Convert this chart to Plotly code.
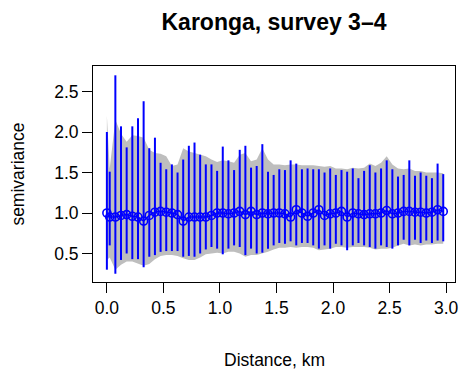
import plotly.graph_objects as go

# Empirical semivariogram (Karonga, survey 3-4): bin distances in km
distance = [0.0] + [round(0.025 + 0.05 * k, 3) for k in range(60)]

# Estimated semivariance per bin
gamma = [1.00, 0.95, 0.95, 0.97, 0.98, 0.96, 0.95, 0.90, 0.97, 1.01,
         1.02, 1.01, 1.00, 0.98, 0.90, 0.95, 0.95, 0.95, 0.95, 0.97,
         1.00, 1.00, 0.99, 1.00, 1.02, 0.98, 1.02, 0.98, 1.00, 0.99,
         1.00, 1.00, 0.99, 0.95, 1.04, 1.00, 0.96, 1.00, 1.04, 0.97,
         0.99, 1.00, 1.02, 0.95, 1.00, 0.99, 0.98, 0.99, 0.99, 1.00,
         1.03, 0.99, 1.00, 1.02, 1.02, 1.01, 1.01, 1.00, 1.01, 1.04,
         1.02]

# Lower / upper limits of the per-bin intervals
ci_low = [0.30, 0.60, 0.25, 0.42, 0.50, 0.43, 0.43, 0.33, 0.46, 0.48,
          0.52, 0.53, 0.53, 0.53, 0.46, 0.47, 0.46, 0.50, 0.55, 0.58,
          0.56, 0.49, 0.56, 0.60, 0.58, 0.48, 0.56, 0.50, 0.51, 0.56,
          0.60, 0.63, 0.62, 0.65, 0.60, 0.63, 0.63, 0.60, 0.56, 0.60,
          0.56, 0.62, 0.60, 0.54, 0.60, 0.63, 0.60, 0.58, 0.56, 0.60,
          0.58, 0.56, 0.60, 0.67, 0.60, 0.67, 0.63, 0.66, 0.63, 0.66,
          0.65]
ci_high = [2.00, 1.51, 2.70, 2.07, 1.81, 2.07, 2.17, 2.38, 1.80, 1.93,
           1.62, 1.54, 1.60, 1.50, 1.66, 1.83, 1.87, 1.72, 1.60, 1.60,
           1.52, 1.82, 1.65, 1.53, 1.78, 1.83, 1.56, 1.58, 1.85, 1.51,
           1.47, 1.54, 1.53, 1.65, 1.61, 1.54, 1.55, 1.54, 1.54, 1.50,
           1.55, 1.47, 1.53, 1.51, 1.55, 1.43, 1.52, 1.59, 1.50, 1.55,
           1.65, 1.54, 1.45, 1.47, 1.65, 1.46, 1.50, 1.46, 1.43, 1.61,
           1.48]

# Simulation envelope under no spatial correlation
env_low = [0.42, 0.45, 0.30, 0.36, 0.40, 0.40, 0.38, 0.35, 0.37, 0.43,
           0.47, 0.48, 0.48, 0.47, 0.44, 0.42, 0.42, 0.45, 0.49, 0.50,
           0.51, 0.50, 0.52, 0.52, 0.50, 0.46, 0.48, 0.48, 0.50, 0.52,
           0.55, 0.57, 0.57, 0.58, 0.57, 0.58, 0.58, 0.57, 0.54, 0.55,
           0.56, 0.58, 0.58, 0.57, 0.58, 0.58, 0.58, 0.57, 0.55, 0.56,
           0.56, 0.57, 0.60, 0.62, 0.60, 0.61, 0.60, 0.61, 0.61, 0.62,
           0.62]
env_high = [2.20, 1.55, 2.15, 1.98, 1.88, 1.96, 1.95, 1.93, 1.78, 1.74,
            1.73, 1.70, 1.58, 1.60, 1.80, 1.76, 1.74, 1.72, 1.70, 1.66,
            1.63, 1.65, 1.64, 1.62, 1.72, 1.74, 1.64, 1.66, 1.80, 1.66,
            1.60, 1.60, 1.59, 1.60, 1.60, 1.59, 1.59, 1.59, 1.58, 1.57,
            1.58, 1.55, 1.55, 1.54, 1.56, 1.55, 1.56, 1.61, 1.58, 1.62,
            1.70, 1.60, 1.55, 1.54, 1.55, 1.52, 1.52, 1.50, 1.50, 1.50,
            1.49]

x_ticks = [0.0, 0.5, 1.0, 1.5, 2.0, 2.5, 3.0]
x_ticktext = ["0.0", "0.5", "1.0", "1.5", "2.0", "2.5", "3.0"]
y_ticks = [0.5, 1.0, 1.5, 2.0, 2.5]
y_ticktext = ["0.5", "1.0", "1.5", "2.0", "2.5"]

FONT = "Liberation Sans, Arial, Helvetica, sans-serif"
BLUE = "#0000FF"
W, H = 464, 372
L, R, T, B = 93, 6, 66, 90

fig = go.Figure()

# grey envelope polygon
fig.add_trace(go.Scatter(
    x=distance + distance[::-1],
    y=env_high + env_low[::-1],
    fill="toself", fillcolor="#BEBEBE",
    line=dict(width=0), mode="lines", hoverinfo="skip",
))

# intervals as error bars, points joined by a line
fig.add_trace(go.Scatter(
    x=distance, y=gamma, mode="lines+markers",
    line=dict(color=BLUE, width=1.5),
    marker=dict(symbol="circle-open", size=8, color=BLUE,
                line=dict(width=1.6, color=BLUE)),
    error_y=dict(type="data", symmetric=False,
                 array=[h - g for h, g in zip(ci_high, gamma)],
                 arrayminus=[g - l for g, l in zip(gamma, ci_low)],
                 color=BLUE, thickness=2, width=0),
))

axis_common = dict(
    showgrid=False, zeroline=False, showline=True, mirror=True,
    linecolor="black", linewidth=1, ticks="outside", ticklen=10,
    tickwidth=1, tickcolor="black",
    tickfont=dict(family=FONT, size=17.5, color="black"),
)

fig.update_layout(
    width=W, height=H,
    margin=dict(l=L, r=R, t=T, b=B, pad=0),
    paper_bgcolor="white", plot_bgcolor="white",
    showlegend=False,
    xaxis=dict(range=[-0.1228, 3.079], tickvals=x_ticks,
               ticktext=x_ticktext, **axis_common),
    yaxis=dict(range=[0.148, 2.815], tickvals=y_ticks,
               ticktext=y_ticktext, **axis_common),
    title=dict(text="<b>Karonga, survey 3\u20134</b>",
               font=dict(family=FONT, size=23, color="black"),
               xref="paper", x=0.5, xanchor="center",
               yref="container", y=1 - 22 / H, yanchor="middle"),
    annotations=[
        dict(text="Distance, km", xref="paper", yref="paper",
             x=0.5, y=-(360 - (H - B)) / (H - T - B),
             xanchor="center", yanchor="middle", showarrow=False,
             font=dict(family=FONT, size=17.5, color="black")),
        dict(text="semivariance", xref="paper", yref="paper",
             x=(17 - L) / (W - L - R), y=0.5, textangle=-90,
             xanchor="center", yanchor="middle", showarrow=False,
             font=dict(family=FONT, size=17.5, color="black")),
    ],
)

fig.write_html("out.html")
